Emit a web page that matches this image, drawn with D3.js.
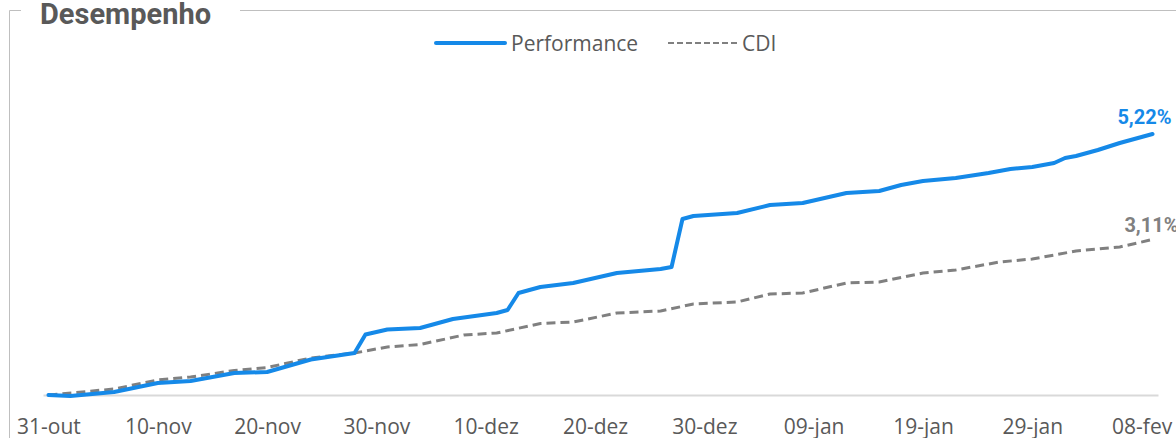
<!DOCTYPE html>
<html>
<head>
<meta charset="utf-8">
<script src="https://cdnjs.cloudflare.com/ajax/libs/d3/7.8.5/d3.min.js"></script>
<style>
  body { margin: 0; background: #fff; }
  svg { display: block; }
</style>
</head>
<body>
<svg width="1176" height="438"></svg>
<script>
'use strict';

// series (percent)
const perfDates = ['2022-10-31', '2022-11-02', '2022-11-06', '2022-11-10', '2022-11-13', '2022-11-17', '2022-11-20',
  '2022-11-24', '2022-11-28', '2022-11-29', '2022-12-01', '2022-12-04', '2022-12-07', '2022-12-11', '2022-12-12',
  '2022-12-13', '2022-12-15', '2022-12-18', '2022-12-22', '2022-12-26', '2022-12-27', '2022-12-28', '2022-12-29',
  '2023-01-02', '2023-01-05', '2023-01-08', '2023-01-10', '2023-01-12', '2023-01-15', '2023-01-17', '2023-01-19',
  '2023-01-22', '2023-01-25', '2023-01-27', '2023-01-29', '2023-01-30', '2023-01-31', '2023-02-01', '2023-02-02',
  '2023-02-04', '2023-02-06', '2023-02-09']
const perfValues = [0.00, -0.02, 0.06, 0.24, 0.28, 0.44, 0.46,
  0.71, 0.84, 1.21, 1.31, 1.34, 1.52, 1.64, 1.70,
  2.04, 2.16, 2.24, 2.44, 2.52, 2.56, 3.52, 3.58,
  3.64, 3.80, 3.84, 3.94, 4.04, 4.08, 4.20, 4.28,
  4.34, 4.44, 4.52, 4.56, 4.60, 4.64, 4.74, 4.78,
  4.90, 5.04, 5.22]

const cdiDates = ['2022-10-31', '2022-11-06', '2022-11-10', '2022-11-13', '2022-11-17', '2022-11-20', '2022-11-24',
  '2022-11-28', '2022-12-01', '2022-12-04', '2022-12-08', '2022-12-11', '2022-12-15', '2022-12-18', '2022-12-22',
  '2022-12-26', '2022-12-29', '2023-01-02', '2023-01-05', '2023-01-08', '2023-01-12', '2023-01-15', '2023-01-19',
  '2023-01-22', '2023-01-26', '2023-01-29', '2023-02-02', '2023-02-06', '2023-02-09']
const cdiValues = [0.00, 0.12, 0.30, 0.36, 0.49, 0.55, 0.74,
  0.84, 0.96, 1.01, 1.20, 1.24, 1.43, 1.46, 1.64,
  1.68, 1.82, 1.86, 2.02, 2.04, 2.24, 2.26, 2.44,
  2.50, 2.66, 2.72, 2.88, 2.96, 3.11]

const tickDates = ['2022-10-31', '2022-11-10', '2022-11-20', '2022-11-30', '2022-12-10', '2022-12-20',
  '2022-12-30', '2023-01-09', '2023-01-19', '2023-01-29', '2023-02-08']
const monthNames = ['jan', 'fev', 'mar', 'abr', 'mai', 'jun', 'jul', 'ago', 'set', 'out', 'nov', 'dez']

const title = 'Desempenho'
const seriesNames = ['Performance', 'CDI']
const blue = '#1589e8'
const grey = '#808080'

const parse = d3.timeParse('%Y-%m-%d')
const perf = perfDates.map((d, i) => ({date: parse(d), value: perfValues[i]}))
const cdi = cdiDates.map((d, i) => ({date: parse(d), value: cdiValues[i]}))

const svg = d3.select('svg')

// frame with title cut into the top border
svg.append('path')
  .attr('d', 'M21,10.5 H9.5 V438 M240,10.5 H1176')
  .attr('fill', 'none')
  .attr('stroke', '#bfbfbf')
  .attr('stroke-width', 1)

svg.append('text')
  .attr('x', 40)
  .attr('y', 24)
  .attr('font-family', 'Roboto')
  .attr('font-weight', 'bold')
  .attr('font-size', 29)
  .attr('fill', '#595959')
  .text(title)

const first = parse(tickDates[0])
const last = parse(perfDates[perfDates.length - 1])
const x = d3.scaleTime()
  .domain([d3.timeHour.offset(first, -12), d3.timeHour.offset(last, 12)])
  .range([43, 1158])
const y = d3.scaleLinear()
  .domain([0, 5.22])
  .range([395, 134])

const xAxis = d3.axisBottom(x)
  .tickValues(tickDates.map(parse))
  .tickSize(0)
  .tickPadding(24)
  .tickFormat((d) => d3.timeFormat('%d')(d) + '-' + monthNames[d.getMonth()])

const ax = svg.append('g')
  .attr('transform', 'translate(0,395)')
  .call(xAxis)
ax.select('.domain').attr('stroke', '#d9d9d9').attr('stroke-width', 2)
ax.selectAll('text')
  .attr('font-family', 'Open Sans')
  .attr('font-size', 21)
  .attr('fill', '#595959')

const line = d3.line()
  .x((d) => x(d.date))
  .y((d) => y(d.value))

svg.append('path')
  .attr('d', line(cdi))
  .attr('fill', 'none')
  .attr('stroke', grey)
  .attr('stroke-width', 3)
  .attr('stroke-dasharray', '9,5')

svg.append('path')
  .attr('d', line(perf))
  .attr('fill', 'none')
  .attr('stroke', blue)
  .attr('stroke-width', 4)
  .attr('stroke-linejoin', 'round')
  .attr('stroke-linecap', 'round')

// end labels
const fmt = (v) => v.toFixed(2).replace('.', ',') + '%'
const lastPerf = perf[perf.length - 1]
const lastCdi = cdi[cdi.length - 1]
svg.append('text')
  .attr('x', x(lastPerf.date) + 19)
  .attr('y', y(lastPerf.value) - 10)
  .attr('text-anchor', 'end')
  .attr('font-family', 'Roboto')
  .attr('font-weight', 'bold')
  .attr('font-size', 20)
  .attr('fill', blue)
  .text(fmt(lastPerf.value))
svg.append('text')
  .attr('x', x(lastCdi.date) + 26)
  .attr('y', y(lastCdi.value) - 8)
  .attr('text-anchor', 'end')
  .attr('font-family', 'Roboto')
  .attr('font-weight', 'bold')
  .attr('font-size', 20)
  .attr('fill', grey)
  .text(fmt(lastCdi.value))

// legend
const legend = svg.append('g').attr('transform', 'translate(436,43)')
legend.append('line')
  .attr('x1', 0).attr('x2', 69)
  .attr('stroke', blue).attr('stroke-width', 4).attr('stroke-linecap', 'round')
legend.append('text')
  .attr('x', 75).attr('y', 8)
  .attr('font-family', 'Open Sans').attr('font-size', 21).attr('fill', '#595959')
  .text(seriesNames[0])
legend.append('line')
  .attr('x1', 232).attr('x2', 301)
  .attr('stroke', grey).attr('stroke-width', 2).attr('stroke-dasharray', '6,3')
legend.append('text')
  .attr('x', 306).attr('y', 8)
  .attr('font-family', 'Open Sans').attr('font-size', 21).attr('fill', '#595959')
  .text(seriesNames[1])
</script>
</body>
</html>
